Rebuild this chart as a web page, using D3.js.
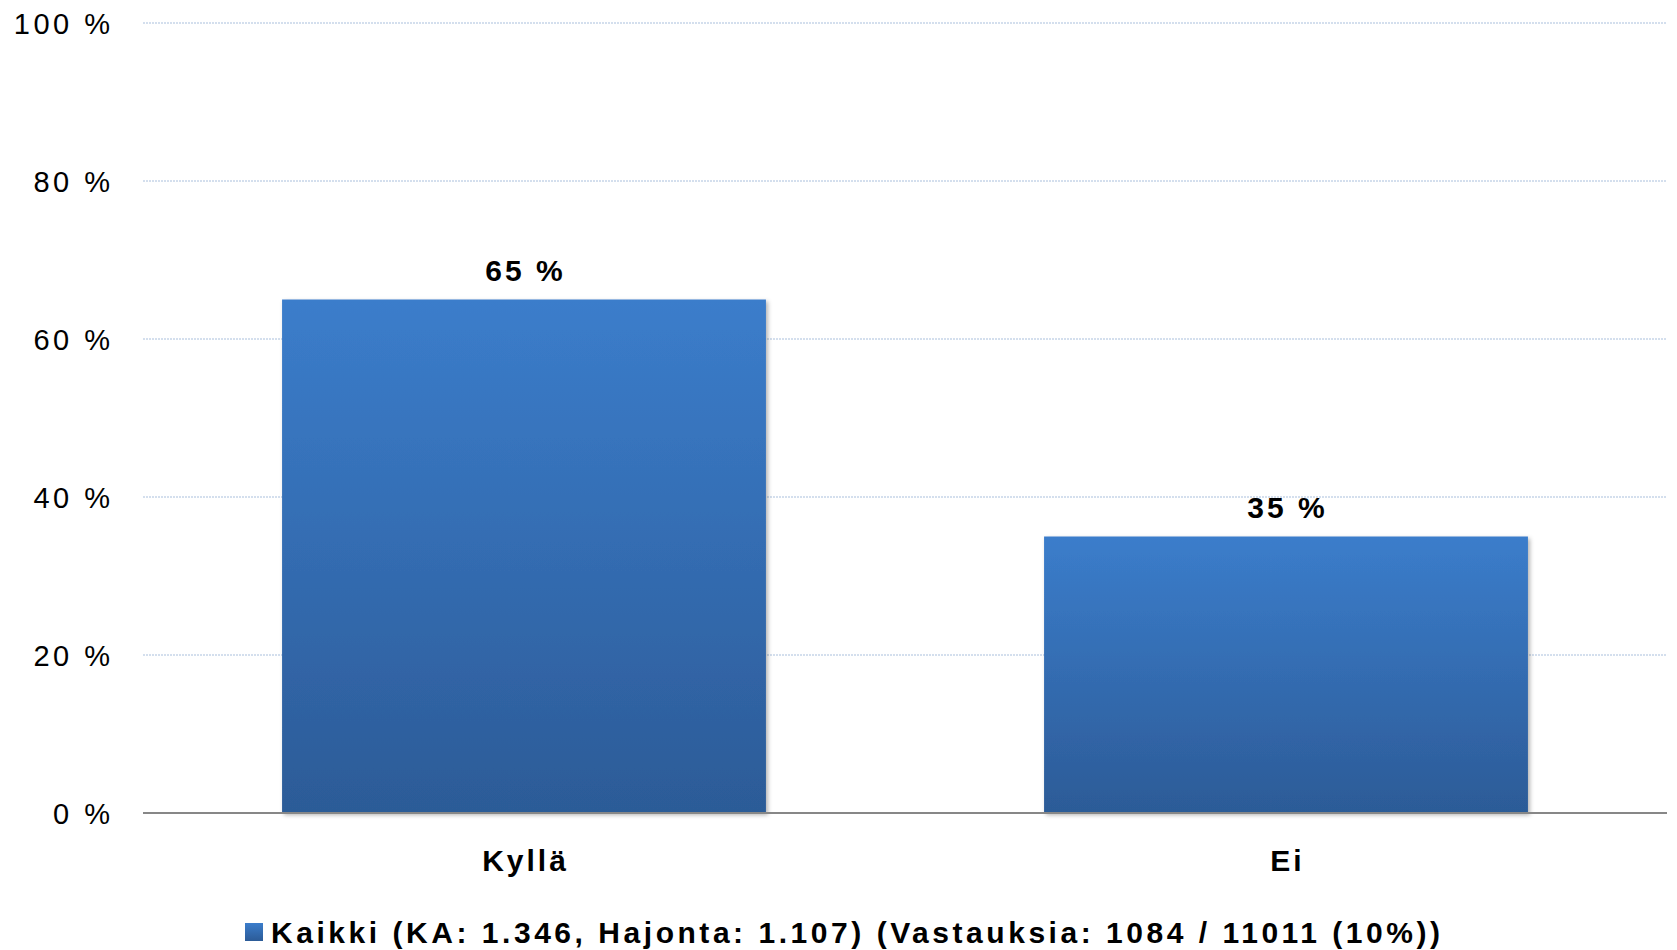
<!DOCTYPE html>
<html>
<head>
<meta charset="utf-8">
<script src="https://cdn.jsdelivr.net/npm/d3@7"></script>
<style>
  body { margin: 0; background: #fff; }
  svg text { font-family: "Liberation Sans", Arial, sans-serif; fill: #000; }
</style>
</head>
<body>
<svg id="chart" width="1677" height="950"></svg>
<script>
// Chart data
const categories = ["Kyllä", "Ei"];
const values = [65, 35];
const yTicks = [0, 20, 40, 60, 80, 100];
const legendLabel = "Kaikki (KA: 1.346, Hajonta: 1.107) (Vastauksia: 1084 / 11011 (10%))";

const svg = d3.select("#chart");
const plotLeft = 143, plotRight = 1667, plotTop = 23, plotBottom = 813;
const spacing = 3;

// Scales
const x = d3.scaleBand()
  .domain(categories)
  .range([plotLeft, plotRight])
  .paddingInner(0.365)
  .paddingOuter(0.1825);

const y = d3.scaleLinear().domain([0, 100]).range([plotBottom, plotTop]);

// Gradient for bars
const defs = svg.append("defs");
const grad = defs.append("linearGradient")
  .attr("id", "barGrad")
  .attr("x1", 0).attr("y1", 0).attr("x2", 0).attr("y2", 1);
grad.append("stop").attr("offset", "0%").attr("stop-color", "#3b7dcb");
grad.append("stop").attr("offset", "100%").attr("stop-color", "#2c5b97");

const shadow = defs.append("filter").attr("id", "shadow")
  .attr("x", "-5%").attr("y", "-5%").attr("width", "110%").attr("height", "110%");
shadow.append("feDropShadow")
  .attr("dx", 2).attr("dy", 2).attr("stdDeviation", 2)
  .attr("flood-color", "#000").attr("flood-opacity", 0.3);

// Gridlines (dotted)
svg.append("g").selectAll("line")
  .data(yTicks.filter(d => d > 0))
  .enter().append("line")
  .attr("x1", plotLeft).attr("x2", plotRight)
  .attr("y1", d => y(d)).attr("y2", d => y(d))
  .attr("stroke", "#a9bfdc")
  .attr("stroke-width", 1)
  .attr("stroke-dasharray", "2,1");

// Y axis labels
svg.append("g").selectAll("text")
  .data(yTicks)
  .enter().append("text")
  .attr("x", 110 + 3.5)
  .attr("y", d => y(d))
  .attr("dy", "0.39em")
  .attr("text-anchor", "end")
  .style("font-size", "29px")
  .style("letter-spacing", "3.5px")
  .text(d => d + " %");

// Bars
svg.append("g").selectAll("rect")
  .data(values)
  .enter().append("rect")
  .attr("x", (d, i) => x(categories[i]))
  .attr("y", d => y(d))
  .attr("width", x.bandwidth())
  .attr("height", d => y(0) - y(d))
  .attr("fill", "url(#barGrad)")
  .attr("filter", "url(#shadow)");

// Baseline axis
svg.append("line")
  .attr("x1", plotLeft).attr("x2", plotRight)
  .attr("y1", y(0)).attr("y2", y(0))
  .attr("stroke", "#878787")
  .attr("stroke-width", 2);

// Value labels
svg.append("g").selectAll("text")
  .data(values)
  .enter().append("text")
  .attr("x", (d, i) => x(categories[i]) + x.bandwidth() / 2 + spacing / 2)
  .attr("y", d => y(d) - 19)
  .attr("text-anchor", "middle")
  .style("font-size", "30px")
  .style("font-weight", "bold")
  .style("letter-spacing", spacing + "px")
  .text(d => d + " %");

// Category labels
svg.append("g").selectAll("text")
  .data(categories)
  .enter().append("text")
  .attr("x", d => x(d) + x.bandwidth() / 2 + spacing / 2)
  .attr("y", 871)
  .attr("text-anchor", "middle")
  .style("font-size", "30px")
  .style("font-weight", "bold")
  .style("letter-spacing", spacing + "px")
  .text(d => d);

// Legend
const legend = svg.append("g");
legend.append("rect")
  .attr("x", 245).attr("y", 923)
  .attr("width", 18).attr("height", 18)
  .attr("fill", "url(#barGrad)");
legend.append("text")
  .attr("x", 271)
  .attr("y", 943)
  .attr("textLength", 1169)
  .attr("lengthAdjust", "spacing")
  .style("font-size", "30px")
  .style("font-weight", "bold")
  .text(legendLabel);
</script>
</body>
</html>
